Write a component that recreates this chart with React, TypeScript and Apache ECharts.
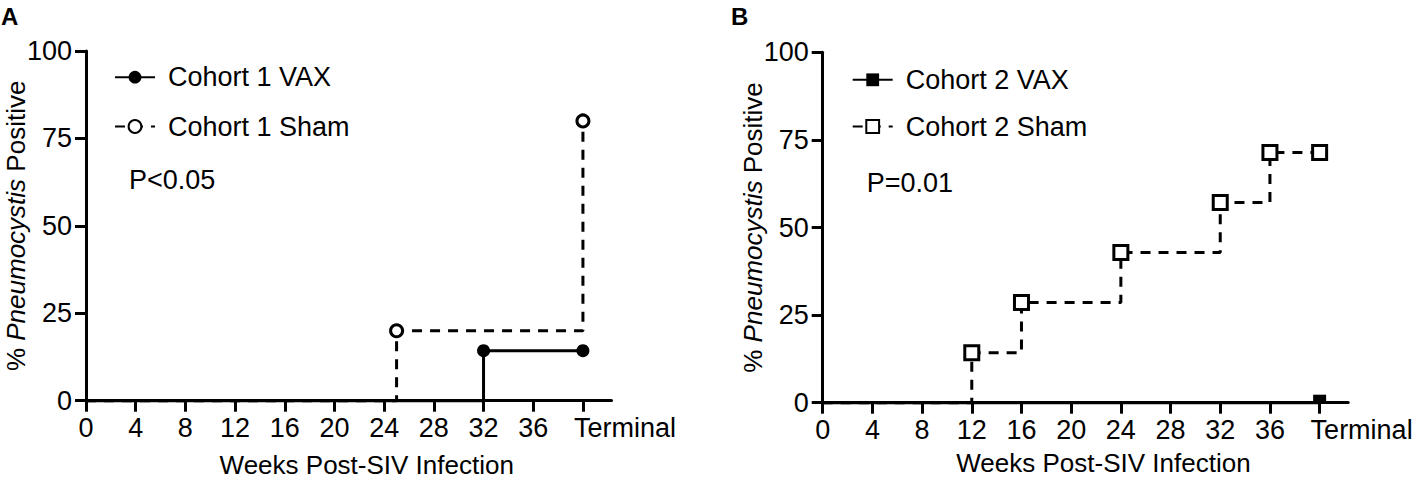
import React, { useEffect, useRef } from "react";
import * as echarts from "echarts";

const xTickValues = [0, 4, 8, 12, 16, 20, 24, 28, 32, 36, 40];
const xTickLabels = ["0", "4", "8", "12", "16", "20", "24", "28", "32", "36", "Terminal"];
const yTickInterval = 25;

const c1VaxWeeks = [0, 32, 40];
const c1VaxPct = [0, 14.29, 14.29];
const c1ShamWeeks = [0, 25, 40];
const c1ShamPct = [0, 20, 80];

const c2VaxWeeks = [0, 40];
const c2VaxPct = [0, 0];
const c2ShamWeeks = [0, 12, 16, 24, 32, 36, 40];
const c2ShamPct = [0, 14.29, 28.57, 42.86, 57.14, 71.43, 71.43];

const FONT = "'Liberation Sans', Arial, sans-serif";
const FS = 27;
const FT = 26;

function buildData(weeks: number[], pct: number[]) {
  return weeks.map((w, i) =>
    i === 0 ? { value: [w, pct[i]], symbol: "none" } : [w, pct[i]]
  );
}

function xAxisOpt(gridIndex: number, gap: number) {
  return {
    type: "value",
    gridIndex,
    min: 0,
    max: 42.3,
    name: "Weeks Post-SIV Infection",
    nameLocation: "middle",
    nameGap: gap,
    nameMoveOverlap: false,
    nameTextStyle: { fontSize: FT, lineHeight: 20, fontFamily: FONT, color: "#000", padding: [0, 0, 0, 36] },
    axisLine: { show: true, onZero: false, lineStyle: { color: "#000", width: 3 } },
    axisTick: { show: true, inside: false, length: 11, customValues: xTickValues, lineStyle: { color: "#000", width: 3 } },
    axisLabel: {
      customValues: xTickValues,
      margin: 14,
      fontSize: FS,
      fontFamily: FONT,
      color: "#000",
      hideOverlap: false,
      showMaxLabel: true,
      formatter: (v: number) => {
        const i = xTickValues.indexOf(v);
        if (i < 0) return "";
        return i === xTickValues.length - 1 ? "{t|" + xTickLabels[i] + "}" : xTickLabels[i];
      },
      rich: {
        t: { fontSize: FS, fontFamily: FONT, color: "#000", padding: [0, 0, 0, 84] },
      },
    },
    splitLine: { show: false },
  };
}

function yAxisOpt(gridIndex: number) {
  return {
    type: "value",
    gridIndex,
    min: 0,
    max: 100,
    interval: yTickInterval,
    name: "{n|% }{i|Pneumocystis}{n| Positive}",
    nameLocation: "middle",
    nameGap: 57,
    nameMoveOverlap: false,
    nameTextStyle: {
      fontSize: FT,
      lineHeight: 26,
      fontFamily: FONT,
      color: "#000",
      rich: {
        n: { fontSize: FT, lineHeight: 26, fontFamily: FONT, color: "#000" },
        i: { fontSize: FT, lineHeight: 26, fontFamily: FONT, color: "#000", fontStyle: "italic" },
      },
    },
    axisLine: { show: true, lineStyle: { color: "#000", width: 3 } },
    axisTick: { show: true, inside: false, length: 11, lineStyle: { color: "#000", width: 3 } },
    axisLabel: { margin: 14, fontSize: FS, fontFamily: FONT, color: "#000" },
    splitLine: { show: false },
  };
}

const dash = [10, 8];

export default function App() {
  const ref = useRef<HTMLDivElement>(null);
  useEffect(() => {
    if (!ref.current) return;
    const chart = echarts.init(ref.current, undefined, { renderer: "svg" });
    const legendText = { fontSize: FS, fontFamily: FONT, color: "#000", lineHeight: 26, padding: [0, 0, 0, 8] };
    chart.setOption({
      animation: false,
      backgroundColor: "#fff",
      title: [
        { text: "A", left: 1, top: 4, padding: 0, textStyle: { fontSize: 24, fontWeight: "bold", fontFamily: FONT, color: "#000" } },
        { text: "B", left: 731, top: 4, padding: 0, textStyle: { fontSize: 24, fontWeight: "bold", fontFamily: FONT, color: "#000" } },
      ],
      grid: [
        { left: 86, top: 51, width: 525.5, height: 349.7, containLabel: false, outerBoundsMode: "none" },
        { left: 822.7, top: 52.3, width: 525.5, height: 350.4, containLabel: false, outerBoundsMode: "none" },
      ],
      xAxis: [xAxisOpt(0, 54), xAxisOpt(1, 50)],
      yAxis: [yAxisOpt(0), yAxisOpt(1)],
      legend: [
        {
          data: ["Cohort 1 VAX", "Cohort 1 Sham"],
          orient: "vertical",
          left: 114,
          top: 63.7,
          padding: 0,
          itemWidth: 40,
          itemHeight: 16,
          itemGap: 22.3,
          textStyle: legendText,
        },
        {
          data: ["Cohort 2 VAX", "Cohort 2 Sham"],
          orient: "vertical",
          left: 851.7,
          top: 66.3,
          padding: 0,
          itemWidth: 40,
          itemHeight: 16,
          itemGap: 19.7,
          textStyle: legendText,
        },
      ],
      graphic: [
        { type: "text", left: 129, top: 166, style: { text: "P<0.05", fontSize: FS, fontFamily: FONT, fill: "#000" } },
        { type: "text", left: 866.7, top: 169, style: { text: "P=0.01", fontSize: FS, fontFamily: FONT, fill: "#000" } },
      ],
      series: [
        {
          name: "Cohort 1 VAX",
          type: "line",
          xAxisIndex: 0,
          yAxisIndex: 0,
          step: "end",
          clip: false,
          data: buildData(c1VaxWeeks, c1VaxPct),
          symbol: "circle",
          symbolSize: 13,
          lineStyle: { color: "#000", width: 3 },
          itemStyle: { color: "#000", borderWidth: 0 },
        },
        {
          name: "Cohort 1 Sham",
          type: "line",
          xAxisIndex: 0,
          yAxisIndex: 0,
          step: "end",
          clip: false,
          data: buildData(c1ShamWeeks, c1ShamPct),
          symbol: "circle",
          symbolSize: 12,
          lineStyle: { color: "#000", width: 3, type: dash },
          itemStyle: { color: "#fff", borderColor: "#000", borderWidth: 3 },
        },
        {
          name: "Cohort 2 VAX",
          type: "line",
          xAxisIndex: 1,
          yAxisIndex: 1,
          step: "end",
          clip: false,
          data: buildData(c2VaxWeeks, c2VaxPct),
          symbol: "rect",
          symbolSize: [13, 8],
          symbolOffset: [0, -4],
          lineStyle: { color: "#000", width: 3 },
          itemStyle: { color: "#000", borderWidth: 0 },
        },
        {
          name: "Cohort 2 Sham",
          type: "line",
          xAxisIndex: 1,
          yAxisIndex: 1,
          step: "end",
          clip: false,
          data: buildData(c2ShamWeeks, c2ShamPct),
          symbol: "rect",
          symbolSize: 14,
          lineStyle: { color: "#000", width: 3, type: dash },
          itemStyle: { color: "#fff", borderColor: "#000", borderWidth: 3 },
        },
      ],
    });
    return () => chart.dispose();
  }, []);
  return (
    <div
      ref={ref}
      style={{ position: "fixed", left: 0, top: 0, width: 1418, height: 480, background: "#fff" }}
    />
  );
}
